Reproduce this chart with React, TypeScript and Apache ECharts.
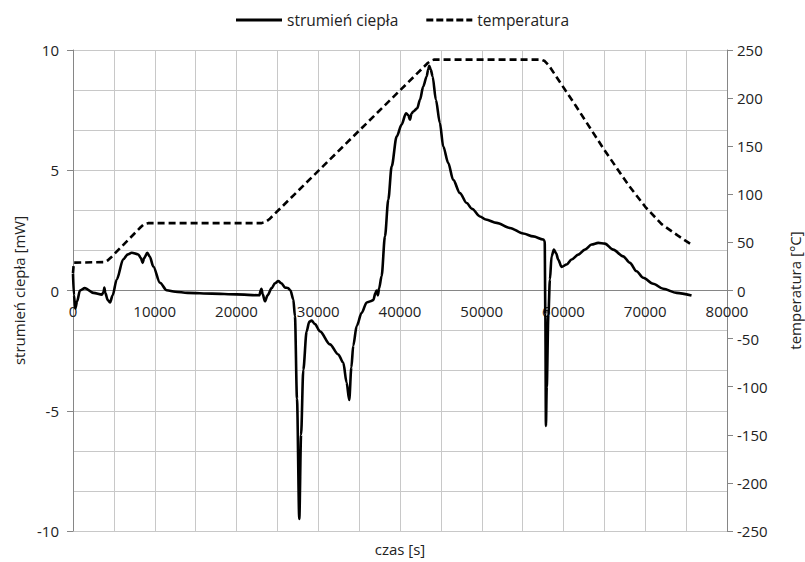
import React, { useEffect, useRef } from "react";
import * as echarts from "echarts";

// time [s] and heat flow [mW]
const flowTime = [0,120,280,500,850,1450,2500,3550,3750,3830,3950,4250,4530,4850,5340,6150,6700,7180,8000,8300,8520,8700,9090,9400,9820,10640,11460,12500,14000,17000,20000,22800,22950,23050,23200,23480,23800,24300,24700,25110,25500,25930,26300,26600,26950,27150,27400,27680,27900,28170,28580,28900,29190,29600,30210,31430,32450,33060,33470,33790,34050,34280,34700,35310,35920,36400,36730,37000,37140,37300,37450,37750,38160,38570,38980,39590,40200,40730,41000,41220,41400,41620,42110,42440,42840,43260,43450,43580,43750,43990,44390,44880,45290,45900,46510,47330,48150,48800,49780,50500,51820,53450,55070,56300,57520,57700,57780,57850,57950,58150,58340,58540,58830,59100,59350,59760,60380,60990,61800,62620,63440,64250,65060,66080,67300,68120,68940,69750,70970,72200,73830,75660];
const flowValues = [0.7,-0.2,-0.75,-0.45,0,0.1,-0.1,-0.17,-0.05,0.12,-0.1,-0.4,-0.5,-0.2,0.45,1.3,1.5,1.57,1.5,1.35,1.15,1.35,1.57,1.4,1.0,0.32,0.01,-0.05,-0.1,-0.13,-0.16,-0.2,0.0,0.07,-0.15,-0.45,-0.2,0.1,0.3,0.39,0.3,0.12,0.1,0.0,-0.37,-1.07,-4.5,-9.5,-6,-3.3,-1.7,-1.3,-1.25,-1.4,-1.7,-2.24,-2.66,-3.0,-3.83,-4.55,-3.2,-2.3,-1.48,-0.93,-0.5,-0.45,-0.4,-0.1,0.0,-0.2,0.1,0.6,2.25,3.78,5.16,6.4,6.9,7.37,7.3,7.1,7.35,7.44,7.58,7.93,8.48,8.9,9.2,9.34,9.2,8.9,7.93,6.96,5.99,5.3,4.6,4.05,3.64,3.4,3.08,2.95,2.81,2.6,2.37,2.25,2.12,2.05,-1,-5.63,-4,-1,0.46,1.42,1.7,1.55,1.29,0.98,1.08,1.29,1.49,1.7,1.91,1.98,1.95,1.7,1.42,1.15,0.8,0.53,0.28,0.07,-0.1,-0.21];

// time [s] and temperature [°C]
const tempTime = [0,100,3900,4200,4600,8300,8700,9200,23000,23500,24000,43400,43800,44200,57300,57700,58200,61500,65000,68000,70000,72000,74000,75600];
const tempValues = [18,29,29.5,31,34,66,69,70,70,71,74,236.5,239,240,240,238.5,234,192,146,109,87,69,57,48];

const xTicks = { min: 0, max: 80000, interval: 10000 };
const leftTicks = { min: -10, max: 10, interval: 5 };
const rightTicks = { min: -250, max: 250, interval: 50 };

const FONT = "Open Sans";
const GRID = "#c8c8c8";
const AXIS = "#868686";
const TXT = "#222";

const SOLID_ICON = "path://M0 0H46V3H0Z";
const DASH_ICON =
  "path://M0 0H7V3H0Z M10 0H17V3H10Z M20 0H27V3H20Z M30 0H37V3H30Z M40 0H46V3H40Z";

export default function App() {
  const ref = useRef<HTMLDivElement>(null);
  useEffect(() => {
    if (!ref.current) return;
    const chart = echarts.init(ref.current, undefined, { renderer: "svg" });
    const flow = flowTime.map((t, i) => [t, flowValues[i]]);
    const temp = tempTime.map((t, i) => [t, tempValues[i]]);
    chart.setOption({
      animation: false,
      backgroundColor: "#ffffff",
      textStyle: { fontFamily: FONT },
      legend: {
        top: 7,
        left: "center",
        itemWidth: 46,
        itemHeight: 3,
        itemGap: 28,
        textStyle: { fontFamily: FONT, fontSize: 15.5, color: TXT },
        data: [
          { name: "strumień ciepła", icon: SOLID_ICON, itemStyle: { color: "#000" } },
          { name: "temperatura", icon: DASH_ICON, itemStyle: { color: "#000" } },
        ],
      },
      grid: {
        left: 73,
        right: 78,
        top: 50,
        bottom: 31,
        containLabel: false,
        outerBoundsMode: "none",
      },
      graphic: [
        {
          type: "text",
          x: 400,
          y: 549,
          style: {
            text: "czas [s]",
            fontFamily: FONT,
            fontSize: 15,
            fill: TXT,
            textAlign: "center",
            textVerticalAlign: "middle",
          },
        },
      ],
      xAxis: {
        type: "value",
        ...xTicks,
        axisLine: { show: false },
        axisTick: { show: false },
        axisLabel: {
          margin: -228,
          fontFamily: FONT,
          fontSize: 15,
          lineHeight: 15,
          color: TXT,
          formatter: (v: number) => String(v),
        },
        splitLine: { show: true, lineStyle: { color: GRID, width: 1 } },
        minorTick: { show: false, splitNumber: 2 },
        minorSplitLine: { show: true, lineStyle: { color: GRID, width: 1 } },
      },
      yAxis: [
        {
          type: "value",
          ...leftTicks,
          position: "left",
          name: "strumień ciepła [mW]",
          nameLocation: "middle",
          nameRotate: 90,
          nameGap: 46,
          nameTextStyle: { fontFamily: FONT, fontSize: 15, color: TXT },
          axisLine: { show: true, onZero: false, lineStyle: { color: AXIS, width: 1 } },
          axisTick: { show: true, length: 6, lineStyle: { color: AXIS } },
          axisLabel: { margin: 14, fontFamily: FONT, fontSize: 15, lineHeight: 15, color: TXT },
          splitLine: { show: true, lineStyle: { color: GRID, width: 1 } },
          minorTick: { show: false, splitNumber: 3 },
          minorSplitLine: { show: true, lineStyle: { color: GRID, width: 1 } },
        },
        {
          type: "value",
          ...rightTicks,
          position: "right",
          name: "temperatura [°C]",
          nameLocation: "middle",
          nameRotate: 90,
          nameGap: 60,
          nameTextStyle: { fontFamily: FONT, fontSize: 15, color: TXT },
          axisLine: { show: true, onZero: false, lineStyle: { color: AXIS, width: 1 } },
          axisTick: { show: true, length: 6, lineStyle: { color: AXIS } },
          axisLabel: { margin: 10, fontFamily: FONT, fontSize: 15, lineHeight: 15, color: TXT },
          splitLine: { show: false },
        },
      ],
      series: [
        {
          name: "strumień ciepła",
          type: "line",
          yAxisIndex: 0,
          data: flow,
          symbol: "none",
          showSymbol: false,
          smooth: 0.3,
          smoothMonotone: "x",
          lineStyle: { color: "#000", width: 2.6 },
          itemStyle: { color: "#000" },
          z: 3,
          markLine: {
            silent: true,
            symbol: "none",
            label: { show: false },
            lineStyle: { color: AXIS, type: "solid", width: 1 },
            emphasis: { disabled: true },
            data: [{ yAxis: 0 }],
            z: 1,
          },
        },
        {
          name: "temperatura",
          type: "line",
          yAxisIndex: 1,
          data: temp,
          symbol: "none",
          showSymbol: false,
          smooth: false,
          lineStyle: { color: "#000", width: 2.6, type: [7, 4] },
          itemStyle: { color: "#000" },
          z: 2,
        },
      ],
    });
    return () => chart.dispose();
  }, []);
  return (
    <div
      ref={ref}
      style={{ position: "fixed", left: 0, top: 0, width: 805, height: 562, background: "#fff" }}
    />
  );
}
